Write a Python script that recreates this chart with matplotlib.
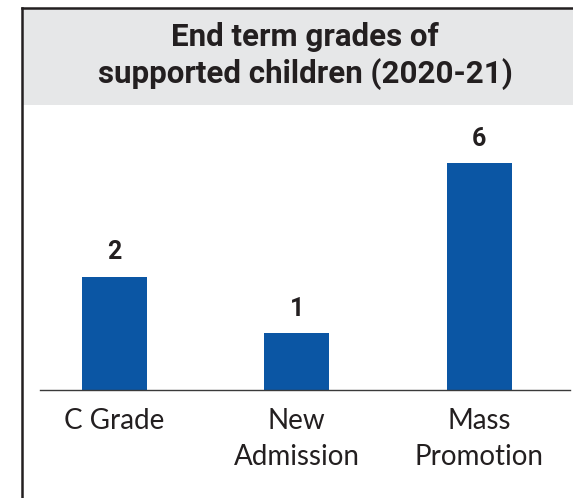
import matplotlib
matplotlib.use('Agg')
import matplotlib.pyplot as plt
from matplotlib.lines import Line2D
from matplotlib.patches import Rectangle

# data
categories = ['C Grade', 'New\nAdmission', 'Mass\nPromotion']
values = [2, 1, 6]
# the reference draws the third bar only twice as tall as the first,
# so the drawn heights are kept apart from the printed values
bar_heights = [2, 1, 4]
title = 'End term grades of\nsupported children (2020-21)'

W, H = 573, 498
fig = plt.figure(figsize=(W / 100, H / 100), dpi=100)

# grey title band and the frame lines on top / left
fig.add_artist(Rectangle((23 / W, 1 - 105 / H), 1, (105 - 9) / H,
                         transform=fig.transFigure, facecolor='#e6e7e8',
                         edgecolor='none', zorder=0))
fig.add_artist(Line2D([22 / W, 1], [1 - 8 / H, 1 - 8 / H],
                      transform=fig.transFigure, color='#231f20', lw=1.8))
fig.add_artist(Line2D([22 / W, 22 / W], [0, 1 - 8 / H],
                      transform=fig.transFigure, color='#231f20', lw=1.8))

fig.text(305 / W, 1 - 56 / H, title, ha='center', va='center',
         fontsize=22.5, fontweight='bold', family='Roboto', color='#231f20',
         linespacing=1.27)

ax = fig.add_axes([40 / W, 1 - 390 / H, 530 / W, 285 / H])
x = range(len(categories))
bars = ax.bar(x, bar_heights, width=0.357, color='#0b56a4')

for rect, v in zip(bars, values):
    ax.annotate(str(v), (rect.get_x() + rect.get_width() / 2, rect.get_height()),
                xytext=(0, 9), textcoords='offset points', ha='center', va='bottom',
                fontsize=18, fontweight='bold', family='Roboto', color='#231f20')

ax.set_xlim(-0.409, 2.499)
ax.set_ylim(0, 5.03)
ax.set_xticks(list(x))
ax.set_xticklabels(categories, fontsize=20, family='Lato', color='#231f20',
                   linespacing=1.45)
ax.tick_params(axis='x', length=0, pad=13)
ax.set_yticks([])
for side in ['top', 'right', 'left']:
    ax.spines[side].set_visible(False)
ax.spines['bottom'].set_color('#3a3a3a')
ax.spines['bottom'].set_linewidth(1.0)
ax.patch.set_alpha(0)

fig.savefig('out.png', dpi=100)
